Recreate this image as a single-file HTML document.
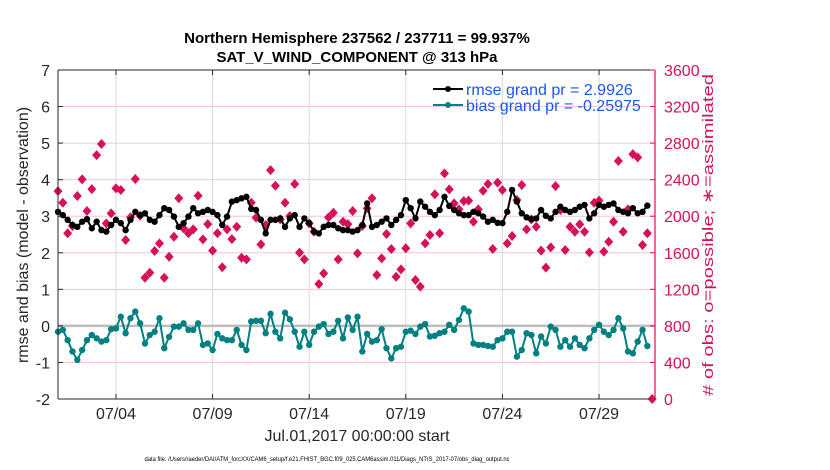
<!DOCTYPE html>
<html><head><meta charset="utf-8">
<style>
html,body{margin:0;padding:0;background:#fff;}
svg{display:block;font-family:"Liberation Sans",Arial,sans-serif;}
</style></head>
<body>
<svg id="chart" width="830" height="470" viewBox="0 0 830 470" xmlns="http://www.w3.org/2000/svg">
<text x="357" y="43" font-size="15" font-weight="bold" text-anchor="middle">Northern Hemisphere 237562 / 237711 = 99.937%</text>
<text x="357" y="62" font-size="15" font-weight="bold" text-anchor="middle">SAT_V_WIND_COMPONENT @ 313 hPa</text>
<g id="grid"></g>
<g id="marks"></g>
<g id="axes"></g>
<text transform="translate(28,235) rotate(-90)" font-size="16" text-anchor="middle" fill="#262626">rmse and bias (model - observation)</text>
<text transform="translate(713,235) rotate(-90)" font-size="15" text-anchor="middle" textLength="322" lengthAdjust="spacingAndGlyphs" fill="#d4145a"># of obs: o=possible; ∗=assimilated</text>
<text x="357" y="441" font-size="16" text-anchor="middle" fill="#262626">Jul.01,2017 00:00:00 start</text>
<text x="327" y="461" font-size="6" text-anchor="middle" textLength="365" lengthAdjust="spacingAndGlyphs" fill="#000">data file: /Users/raeder/DAI/ATM_forcXX/CAM6_setup/f.e21.FHIST_BGC.f09_025.CAM6assim.011/Diags_NTrS_2017-07/obs_diag_output.nc</text>
<g>
  <line x1="433" y1="89" x2="463" y2="89" stroke="#000" stroke-width="2"/>
  <circle cx="448" cy="89" r="3" fill="#000"/>
  <text x="466" y="95" font-size="16" fill="#1a55ee">rmse grand pr = 2.9926</text>
  <line x1="433" y1="105" x2="463" y2="105" stroke="#008080" stroke-width="2"/>
  <circle cx="448" cy="105" r="3" fill="#008080"/>
  <text x="466" y="111" font-size="16" fill="#1a55ee">bias grand pr = -0.25975</text>
</g>
</svg>
<script>
const rmse=[3.12,3.03,2.90,2.76,2.71,2.85,2.92,2.67,2.85,2.62,2.58,2.76,2.90,2.81,2.62,2.90,3.12,3.03,3.08,2.90,2.85,3.03,3.22,3.17,2.99,2.71,2.81,2.99,3.22,3.08,3.12,3.17,3.12,3.03,2.76,2.99,3.40,3.44,3.49,3.53,3.20,
3.17,2.90,2.53,2.90,2.90,2.94,2.71,2.94,3.03,2.71,2.94,2.81,2.58,2.53,2.71,2.76,2.76,2.67,2.62,2.62,2.58,2.62,2.76,3.35,2.71,2.76,2.85,2.94,2.76,2.90,3.03,3.44,3.22,2.94,3.40,3.26,3.12,3.03,3.17,3.53,
3.28,3.17,3.08,3.03,3.03,3.12,3.08,2.99,2.85,2.90,2.82,2.81,3.12,3.72,3.40,3.08,2.97,2.92,2.94,3.17,3.01,2.94,3.12,3.26,3.17,3.12,3.17,3.26,3.31,2.94,3.08,3.31,3.26,3.31,3.35,3.17,3.12,3.08,3.22,3.08,3.12,3.29];
const bias=[-0.16,-0.11,-0.39,-0.70,-0.93,-0.66,-0.39,-0.25,-0.34,-0.43,-0.39,-0.09,-0.07,0.25,-0.20,0.21,0.39,0.07,-0.48,-0.25,-0.16,0.21,-0.61,-0.30,-0.02,-0.02,0.07,-0.11,-0.11,0.07,-0.52,-0.48,-0.66,-0.22,-0.34,-0.39,-0.39,-0.11,-0.52,-0.66,0.12,
0.14,0.14,-0.20,0.33,-0.16,-0.34,0.36,0.18,-0.16,-0.57,-0.16,-0.52,-0.16,-0.02,0.05,-0.22,-0.16,0.14,-0.34,0.23,-0.11,0.25,-0.70,-0.22,-0.43,-0.39,-0.09,-0.61,-0.89,-0.61,-0.57,-0.16,-0.13,-0.22,-0.02,0.05,-0.29,-0.27,-0.20,
-0.16,0.03,-0.11,0.16,0.48,0.39,-0.48,-0.52,-0.52,-0.55,-0.57,-0.39,-0.34,-0.16,-0.16,-0.84,-0.66,-0.20,-0.25,-0.75,-0.29,-0.48,-0.02,-0.11,-0.57,-0.39,-0.57,-0.34,-0.52,-0.61,-0.34,-0.11,0.03,-0.16,-0.25,-0.11,0.21,-0.07,-0.70,-0.75,-0.43,-0.11,-0.55];
const nobs=[2275,2148,1813,1893,2221,2403,2057,2297,2669,2790,1922,2031,2305,2287,1740,1988,2407,2005,1327,1382,1619,1703,1327,1557,1776,2196,1867,1813,1856,2224,1747,1914,1623,1813,1441,1856,1750,1885,1546,1528,2148,1984,
1692,1904,2505,2334,1966,2148,2002,2352,1601,1528,1922,1830,1258,1375,1988,2038,1528,1940,1914,2057,1594,1893,2086,2196,1357,1539,1805,1641,1338,1419,1649,1922,1302,1229,1703,1794,2239,1813,2469,
2294,2141,2075,2166,2170,1940,2075,2279,2352,1641,2367,2287,1703,1783,2177,2341,1856,1966,1885,1623,1437,1659,2330,2068,1630,1885,1830,1911,1830,1605,2148,2170,1612,1721,1940,2604,1830,2075,2680,2644,1685,1813,0];
const xTickDays=[3,8,13,18,23,28];
const xTickLabels=["07/04","07/09","07/14","07/19","07/24","07/29"];
const yLeftTicks=[-2,-1,0,1,2,3,4,5,6,7];
const yRightTicks=[0,400,800,1200,1600,2000,2400,2800,3200,3600];
const stepDays=0.25;

const L=58,R=655,T=70,B=399,NS="http://www.w3.org/2000/svg";
const xS=d=>L+d/31*(R-L+2);
const yL=v=>B-(v+2)/9*(B-T);
const yR=v=>B-v/3600*(B-T);
function mk(tag,attrs,parent){const e=document.createElementNS(NS,tag);for(const k in attrs)e.setAttribute(k,attrs[k]);parent.appendChild(e);return e;}
const grid=document.getElementById('grid'),marks=document.getElementById('marks'),axes=document.getElementById('axes');
mk('rect',{x:L,y:T,width:R-L,height:B-T,fill:'#fff'},grid);
yRightTicks.forEach(v=>{if(v>0&&v<3600){const g=mk('line',{x1:L,x2:R,y1:yR(v),y2:yR(v),stroke:'#f4c6d8','stroke-width':1},grid);

}});
xTickDays.forEach(d=>{const g=mk('line',{x1:xS(d),x2:xS(d),y1:T,y2:B,stroke:'#d9d9d9','stroke-width':1},grid);

});
const zl=mk('line',{x1:L,x2:R,y1:yL(0),y2:yL(0),stroke:'#bdbdbd','stroke-width':2.5},grid);


nobs.forEach((v,i)=>{const x=xS(i*stepDays),y=yR(v);
const p=mk('path',{d:`M${x},${y-5}L${x+4.5},${y}L${x},${y+5}L${x-4.5},${y}Z`,fill:'#d6105a'},marks);

});
function series(vals,color,name){
 const pts=vals.map((v,i)=>`${xS(i*stepDays).toFixed(1)},${yL(v).toFixed(1)}`).join(' ');
 const pl=mk('polyline',{points:pts,fill:'none',stroke:color,'stroke-width':2},marks);
 
 
 vals.forEach((v,i)=>{const c=mk('circle',{cx:xS(i*stepDays),cy:yL(v),r:3.2,fill:color},marks);
 
 });
}
series(rmse,'#000','rmse');
series(bias,'#008080','bias');
mk('line',{x1:L,x2:R,y1:T,y2:T,stroke:'#262626','stroke-width':1},axes);
mk('line',{x1:L,x2:R,y1:B,y2:B,stroke:'#262626','stroke-width':1},axes);
mk('line',{x1:L,x2:L,y1:T,y2:B,stroke:'#262626','stroke-width':1},axes);
mk('line',{x1:R,x2:R,y1:T,y2:B,stroke:'#d6105a','stroke-width':1.2},axes);
yLeftTicks.forEach(v=>{mk('line',{x1:L,x2:L+5,y1:yL(v),y2:yL(v),stroke:'#262626'},axes);
const t=mk('text',{x:L-8,y:yL(v)+6,'font-size':16,'text-anchor':'end',fill:'#262626'},axes);t.textContent=v;

});
yRightTicks.forEach(v=>{mk('line',{x1:R-5,x2:R,y1:yR(v),y2:yR(v),stroke:'#d6105a'},axes);
const t=mk('text',{x:R+9,y:yR(v)+6,'font-size':16,fill:'#d6105a'},axes);t.textContent=v;

});
xTickDays.forEach((d,i)=>{mk('line',{x1:xS(d),x2:xS(d),y1:B,y2:B-5,stroke:'#262626'},axes);
mk('line',{x1:xS(d),x2:xS(d),y1:T,y2:T+5,stroke:'#262626'},axes);
const t=mk('text',{x:xS(d),y:B+20,'font-size':16,'text-anchor':'middle',fill:'#262626'},axes);t.textContent=xTickLabels[i];

});
</script>
</body></html>
